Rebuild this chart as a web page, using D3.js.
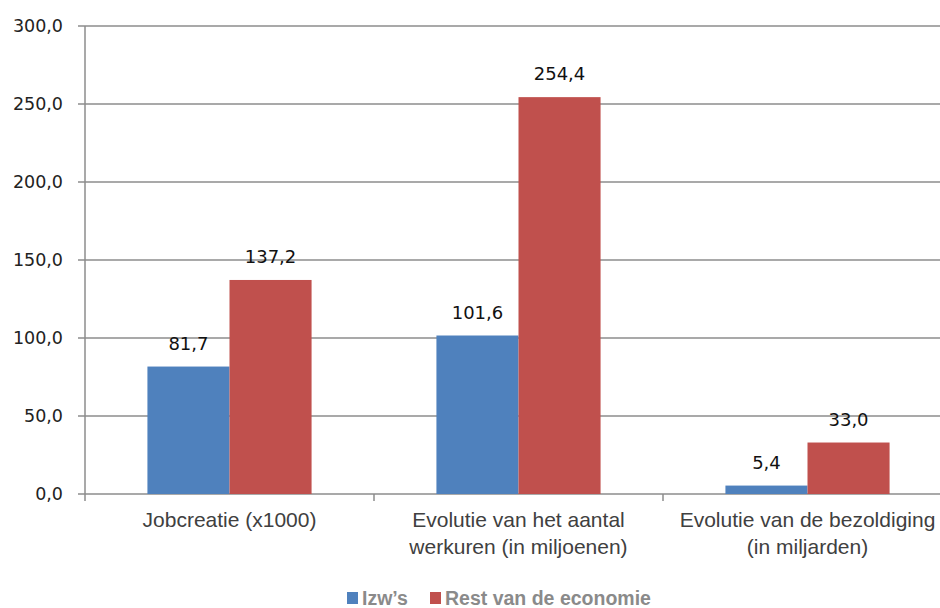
<!DOCTYPE html>
<html><head><meta charset="utf-8">
<script src="https://cdn.jsdelivr.net/npm/d3@7"></script>
<style>body{margin:0;background:#fff}svg{display:block}</style>
</head><body><svg id="c" width="940" height="608"></svg>
<script>
const categories = [["Jobcreatie (x1000)"], ["Evolutie van het aantal", "werkuren (in miljoenen)"], ["Evolutie van de bezoldiging", "(in miljarden)"]];
const seriesNames = ["Izw’s", "Rest van de economie"];
const izw = [81.7, 101.6, 5.4];
const rest = [137.2, 254.4, 33.0];
const yTicks = [0, 50, 100, 150, 200, 250, 300];
const colors = ["#4F81BD", "#C0504D"];

const svg = d3.select("#c");
const x = d3.scaleBand().domain(d3.range(categories.length)).range([85, 952]).paddingInner(0).paddingOuter(0);
const y = d3.scaleLinear().domain([0, 300]).range([494, 26]);
const fmt = v => d3.format(".1f")(v).replace(".", ",");
const series = [izw, rest];
const barW = x.bandwidth() * 0.284;
const off = (x.bandwidth() - 2 * barW) / 2;

// gridlines
svg.append("g").selectAll("line").data(yTicks).join("line")
  .attr("x1", 78).attr("x2", 940).attr("y1", d => y(d)).attr("y2", d => y(d))
  .attr("stroke", "#8c8c8c").attr("stroke-width", 1.5);

// y axis line
svg.append("line").attr("x1", 85).attr("x2", 85).attr("y1", y(300)).attr("y2", 501)
  .attr("stroke", "#8c8c8c").attr("stroke-width", 1.5);
// x category ticks
svg.append("g").selectAll("line").data(d3.range(1, categories.length)).join("line")
  .attr("x1", d => x(d)).attr("x2", d => x(d)).attr("y1", 494).attr("y2", 501)
  .attr("stroke", "#8c8c8c").attr("stroke-width", 1.5);

// y tick labels
svg.append("g").selectAll("text").data(yTicks).join("text")
  .attr("x", 63).attr("y", d => y(d)).attr("dy", "0.36em").attr("text-anchor", "end")
  .attr("font-family", "DejaVu Sans, Verdana, sans-serif").attr("font-size", 17.5).attr("fill", "#222")
  .text(d => fmt(d));

// bars
series.forEach((s, si) => {
  svg.append("g").selectAll("rect").data(s).join("rect")
    .attr("x", (d, i) => x(i) + off + si * barW)
    .attr("y", d => y(d)).attr("width", barW).attr("height", d => y(0) - y(d))
    .attr("fill", colors[si]);
  svg.append("g").selectAll("text").data(s).join("text")
    .attr("x", (d, i) => x(i) + off + si * barW + barW / 2)
    .attr("y", d => y(d) - 17).attr("text-anchor", "middle")
    .attr("font-family", "DejaVu Sans, Verdana, sans-serif").attr("font-size", 18).attr("fill", "#111")
    .text(d => fmt(d));
});

// category labels
categories.forEach((lines, i) => {
  const t = svg.append("text").attr("text-anchor", "middle")
    .attr("font-family", "Liberation Sans, Arial, sans-serif").attr("font-size", 21).attr("fill", "#404040");
  lines.forEach((ln, j) => {
    t.append("tspan").attr("x", x(i) + x.bandwidth() / 2).attr("y", 527 + j * 27).text(ln);
  });
});

// legend
const leg = svg.append("g").attr("font-family", "Liberation Sans, Arial, sans-serif")
  .attr("font-size", 19.5).attr("font-weight", "bold").attr("fill", "#8a8a8a");
const legX = [347, 430];
seriesNames.forEach((n, i) => {
  leg.append("rect").attr("x", legX[i]).attr("y", 592).attr("width", 11).attr("height", 12).attr("fill", colors[i]);
  leg.append("text").attr("x", legX[i] + 15).attr("y", 605).text(n);
});
</script></body></html>
